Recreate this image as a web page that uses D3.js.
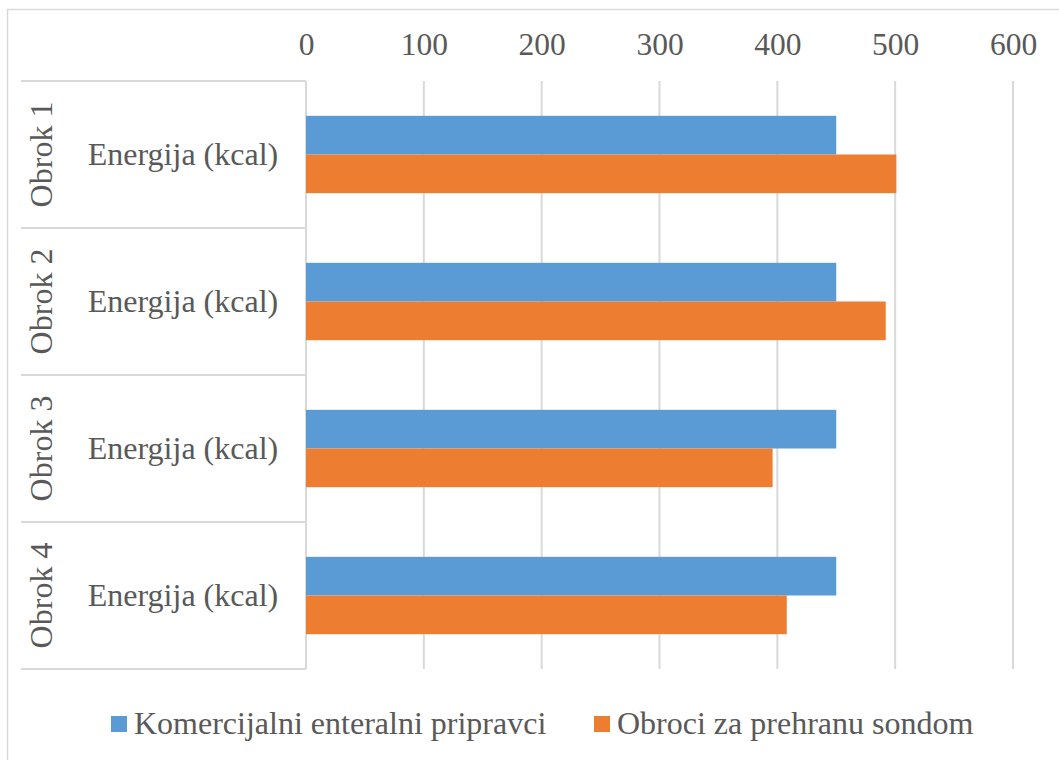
<!DOCTYPE html>
<html>
<head>
<meta charset="utf-8">
<script src="https://cdn.jsdelivr.net/npm/d3@7/dist/d3.min.js"></script>
<style>
  html, body { margin: 0; padding: 0; background: #fff; }
  svg text { font-family: "Liberation Serif", "Times New Roman", Times, serif; }
</style>
</head>
<body>
<div id="chart"></div>
<script>
const groups = ["Obrok 1", "Obrok 2", "Obrok 3", "Obrok 4"];
const subLabel = "Energija (kcal)";
const series = ["Komercijalni enteralni pripravci", "Obroci za prehranu sondom"];
const colors = ["#5b9bd5", "#ed7d31"];
const komercijalni = [450, 450, 450, 450];
const obroci = [501, 492, 396, 408];
const tickValues = [0, 100, 200, 300, 400, 500, 600];

const W = 1059, H = 760;
const m = { l: 306, r: 46, t: 81, b: 91 };
const textCol = "#595959", gridCol = "#d9d9d9";

const svg = d3.select("#chart").append("svg").attr("width", W).attr("height", H);

// chart frame (only left/top edges visible in the picture)
svg.append("path").attr("d", `M7.5,${H} V9.5 H${W}`)
  .attr("fill", "none").attr("stroke", gridCol).attr("stroke-width", 1.5);

const x = d3.scaleLinear().domain([0, 600]).range([m.l, W - m.r]);
const y = d3.scaleBand().domain(groups).range([m.t, H - m.b]);
const yInner = d3.scaleBand().domain(series).range([0, y.bandwidth()]).paddingOuter(0.9);

// vertical gridlines
svg.append("g").selectAll("line").data(tickValues).join("line")
  .attr("x1", (d) => x(d)).attr("x2", (d) => x(d))
  .attr("y1", m.t).attr("y2", H - m.b)
  .attr("stroke", gridCol).attr("stroke-width", 2);

// top axis labels
const ax = svg.append("g").attr("transform", `translate(0, 55)`)
  .call(d3.axisTop(x).tickValues(tickValues).tickSize(0).tickPadding(0))
  .attr("font-family", null).attr("font-size", null);
ax.select(".domain").remove();
ax.selectAll("text").attr("fill", textCol).attr("font-size", 31.5).attr("dy", 0);

// category separators
const seps = groups.map((g) => y(g)).concat([H - m.b]);
svg.append("g").selectAll("line").data(seps).join("line")
  .attr("x1", 21).attr("x2", m.l).attr("y1", (d) => d).attr("y2", (d) => d)
  .attr("stroke", gridCol).attr("stroke-width", 2);

// bars
const data = groups.map((g, i) => ({ g, vals: [komercijalni[i], obroci[i]] }));
const rows = svg.append("g").selectAll("g").data(data).join("g")
  .attr("transform", (d) => `translate(0, ${y(d.g)})`);
rows.selectAll("rect").data((d) => d.vals.map((v, k) => ({ v, s: series[k], k }))).join("rect")
  .attr("x", x(0)).attr("y", (d) => yInner(d.s))
  .attr("width", (d) => x(d.v) - x(0)).attr("height", yInner.bandwidth())
  .attr("fill", (d) => colors[d.k]);

// category labels
rows.append("text").attr("x", 183).attr("y", y.bandwidth() / 2 + 10.5)
  .attr("text-anchor", "middle").attr("fill", textCol).attr("font-size", 32)
  .text(subLabel);
rows.append("text")
  .attr("transform", `translate(52, ${y.bandwidth() / 2}) rotate(-90)`)
  .attr("text-anchor", "middle").attr("fill", textCol).attr("font-size", 32)
  .text((d) => d.g);

// legend
const legX = [111, 594];
const leg = svg.append("g").selectAll("g").data(series).join("g")
  .attr("transform", (d, i) => `translate(${legX[i]}, 716)`);
leg.append("rect").attr("width", 16).attr("height", 16).attr("fill", (d, i) => colors[i]);
leg.append("text").attr("x", 23).attr("y", 18).attr("fill", textCol).attr("font-size", 32)
  .text((d) => d);
</script>
</body>
</html>
